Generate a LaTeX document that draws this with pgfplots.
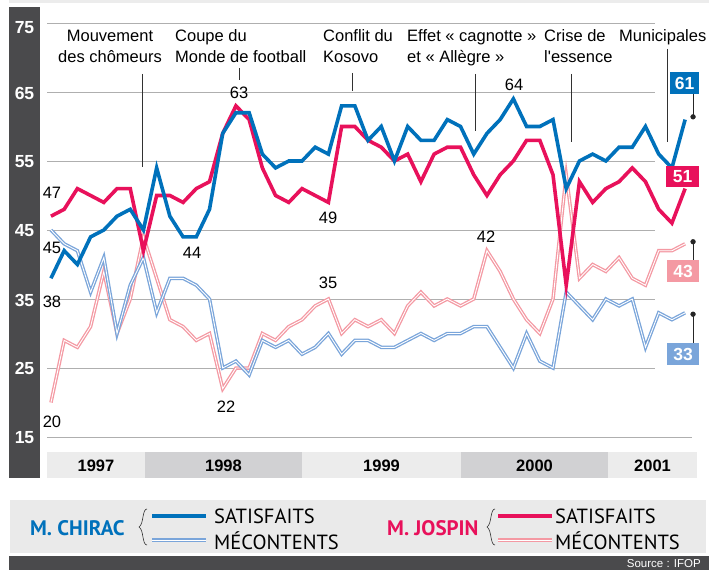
\documentclass[border=0pt]{standalone}
\usepackage{pgfplots}
\pgfplotsset{compat=1.18}
\usepackage{pgfplotstable}
\usepackage{fontspec}
\setmainfont{Liberation Sans}
\newfontfamily\legfont{PT Sans}
\definecolor{cblue}{RGB}{0,113,187}
\definecolor{cred}{RGB}{232,17,91}
\definecolor{clblue}{RGB}{122,165,218}
\definecolor{clred}{RGB}{244,153,163}
\definecolor{darkbar}{RGB}{74,74,76}
\definecolor{gridgray}{RGB}{175,175,175}
\definecolor{bandlight}{RGB}{236,236,236}
\definecolor{banddark}{RGB}{209,209,211}
\definecolor{leggray}{RGB}{234,234,234}
\definecolor{annot}{RGB}{50,50,50}

\pgfplotstableread{
i cs cm js jm
0 38 45 47 20
1 42 43 48 29
2 40 42 51 28
3 44 36 50 31
4 45 41 49 39
5 47 30 51 30
6 48 37 51 35
7 45 41 42 44
8 54 33 50 38
9 47 38 50 32
10 44 38 49 31
11 44 37 51 29
12 48 35 52 30
13 59 25 59 22
14 62 26 63 25
15 62 24 61 25
16 56 29 54 30
17 54 28 50 29
18 55 29 49 31
19 55 27 51 32
20 57 28 50 34
21 56 30 49 35
22 63 27 60 30
23 63 29 60 32
24 58 29 58 31
25 60 28 57 32
26 55 28 55 30
27 60 29 56 34
28 58 30 52 36
29 58 29 56 34
30 61 30 57 35
31 60 30 57 34
32 56 31 53 35
33 59 31 50 42
34 61 28 53 39
35 64 25 55 35
36 60 30 58 32
37 60 26 58 30
38 61 25 53 35
39 51 36 37 53
40 55 34 52 38
41 56 32 49 40
42 55 35 51 39
43 57 34 52 41
44 57 35 54 38
45 60 28 52 37
46 56 33 48 42
47 54 32 46 42
48 61 33 51 43
}\data

\begin{document}
\begin{tikzpicture}
\begin{scope}[x=1bp,y=-1bp]
\useasboundingbox (0,0) rectangle (709,570);
\fill[bandlight] (9,0) rectangle (709,3);
\fill[darkbar] (9,7) rectangle (40,478);
\fill[bandlight] (47,452) rectangle (145,478);
\fill[banddark] (145,452) rectangle (302,478);
\fill[bandlight] (302,452) rectangle (461,478);
\fill[banddark] (461,452) rectangle (608,478);
\fill[bandlight] (608,452) rectangle (697,478);
\fill[leggray] (10,500) rectangle (706,553);
\fill[darkbar] (9,556) rectangle (709,570);
\end{scope}

\begin{axis}[at={(47bp,-437bp)}, anchor=south west, scale only axis,
  width=650bp, height=414bp, xmin=-0.3, xmax=48.9, ymin=15, ymax=75,
  axis lines=none, clip=false]
\foreach \v in {75,65,55,45,35,25}{
  \edef\tmp{\noexpand\draw[gridgray, line width=0.9bp] (axis cs:-0.3,\v) -- (axis cs:45.72,\v);}\tmp
}
\draw[gridgray, line width=0.9bp] (axis cs:-0.3,15) -- (axis cs:48.52,15);
\addplot[draw=clred, double=white, double distance=0.9bp, line width=1.3bp, line join=miter] table[x=i,y=jm]{\data};
\addplot[draw=clblue, double=white, double distance=0.9bp, line width=1.3bp, line join=miter] table[x=i,y=cm]{\data};
\addplot[draw=cred, line width=3.6bp, line join=miter] table[x=i,y=js]{\data};
\addplot[draw=cblue, line width=3.6bp, line join=miter] table[x=i,y=cs]{\data};
\addplot[only marks, mark=*, mark size=2.4bp, black!85] coordinates {(48.6,61.4) (48.6,43.3) (48.6,32.8)};
\end{axis}

\begin{scope}[x=1bp,y=-1bp]
% tick labels
\begin{scope}[every node/.style={text=white, font=\bfseries\fontsize{17.5bp}{18bp}\selectfont, inner sep=0}]
\node at (24.5,28) {75};
\node at (24.5,93) {65};
\node at (24.5,162) {55};
\node at (24.5,231) {45};
\node at (24.5,300) {35};
\node at (24.5,368) {25};
\node at (24.5,437.5) {15};
\end{scope}
% year labels
\begin{scope}[every node/.style={font=\bfseries\fontsize{16.5bp}{18bp}\selectfont, inner sep=0}]
\node at (96,465.5) {1997};
\node at (223.5,465.5) {1998};
\node at (381.5,465.5) {1999};
\node at (534.5,465.5) {2000};
\node at (652.5,465.5) {2001};
\end{scope}
% annotations
\draw[annot, line width=0.9bp] (142,74) -- (142,167);
\draw[annot, line width=0.9bp] (239,68) -- (239,80);
\draw[annot, line width=0.9bp] (352,73) -- (352,91);
\draw[annot, line width=0.9bp] (475,74) -- (475,131);
\draw[annot, line width=0.9bp] (571,74) -- (571,142);
\draw[annot, line width=0.9bp] (667,49) -- (667,142);
\begin{scope}[every node/.style={font=\fontsize{16.5bp}{20bp}\selectfont, inner sep=0}]
\node[anchor=base] at (110,42) {Mouvement};
\node[anchor=base] at (110,63) {des chômeurs};
\node[anchor=base west] at (175,42) {Coupe du};
\node[anchor=base west] at (175,63) {Monde de football};
\node[anchor=base west] at (323,42) {Conflit du};
\node[anchor=base west] at (323,63) {Kosovo};
\node[anchor=base west] at (407,42) {Effet « cagnotte »};
\node[anchor=base west] at (407,63) {et « Allègre »};
\node[anchor=base west] at (544,42) {Crise de};
\node[anchor=base west] at (544,63) {l\textquotesingle essence};
\node[anchor=base west] at (619,42) {Municipales};
% value labels
\node at (52,193) {47};
\node at (52,248) {45};
\node at (52,302) {38};
\node at (52,422) {20};
\node at (239,93) {63};
\node at (192,253) {44};
\node at (226,407) {22};
\node at (328,218) {49};
\node at (328,283) {35};
\node at (514,85) {64};
\node at (486,237) {42};
\end{scope}
% end boxes
\draw[black!85, line width=0.9bp] (693,117) -- (693,93);
\draw[black!85, line width=0.9bp] (693,242) -- (693,260);
\draw[black!85, line width=0.9bp] (693,314) -- (693,343);
\begin{scope}[every node/.style={text=white, font=\bfseries\fontsize{17.5bp}{18bp}\selectfont, inner sep=0, minimum height=21.5bp}]
\node[fill=cblue, minimum width=29bp] at (684.5,83) {61};
\node[fill=cred, minimum width=33bp] at (682.5,176.5) {51};
\node[fill=clred, minimum width=32bp] at (683,271) {43};
\node[fill=clblue, minimum width=32bp] at (683,354) {33};
\end{scope}
% legend
\node[anchor=west, inner sep=0, text=cblue, font=\legfont\bfseries\fontsize{21bp}{22bp}\selectfont] at (30,528) {M. CHIRAC};
\node[anchor=west, inner sep=0, text=cred, font=\legfont\bfseries\fontsize{21bp}{22bp}\selectfont] at (387,528) {M. JOSPIN};
\draw[annot, line width=0.6bp] (147,509) .. controls (142,509) and (144,524) .. (139,527) .. controls (144,530) and (142,545) .. (147,545);
\draw[annot, line width=0.6bp] (495,509) .. controls (490,509) and (492,524) .. (487,527) .. controls (492,530) and (490,545) .. (495,545);
\draw[cblue, line width=4bp] (152,516) -- (206,516);
\draw[clblue, double=white, double distance=0.9bp, line width=1.3bp] (152,540) -- (206,540);
\draw[cred, line width=4bp] (498,516) -- (552,516);
\draw[clred, double=white, double distance=0.9bp, line width=1.3bp] (498,540) -- (552,540);
\begin{scope}[every node/.style={anchor=west, inner sep=0, font=\legfont\fontsize{20.5bp}{21bp}\selectfont}]
\node at (214,516) {SATISFAITS};
\node at (214,541) {MÉCONTENTS};
\node at (555,516) {SATISFAITS};
\node at (555,541) {MÉCONTENTS};
\end{scope}
\node[anchor=base east, inner sep=0, text=white, font=\fontsize{11.5bp}{12bp}\selectfont] at (701,567.3) {Source : IFOP};
\end{scope}
\end{tikzpicture}
\end{document}
